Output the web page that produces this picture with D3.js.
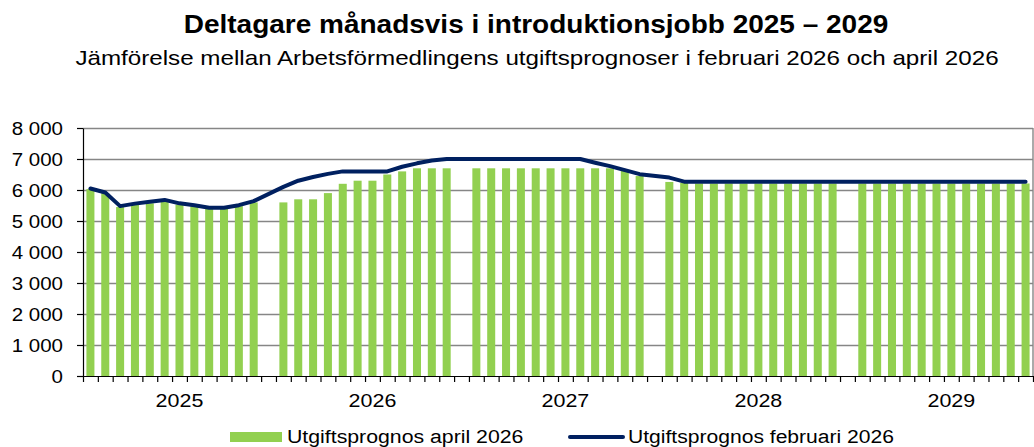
<!DOCTYPE html>
<html lang="sv">
<head>
    <meta charset="UTF-8">
    <title>Deltagare månadsvis i introduktionsjobb 2025 – 2029</title>
    <script src="https://d3js.org/d3.v7.min.js"></script>
    <style>
        body { margin: 0; background: #fff; }
        svg { font-family: "Liberation Sans", Arial, sans-serif; }
        .grid line { stroke: #868686; stroke-width: 1.4; }
        .axis path, .axis line { stroke: #000; stroke-width: 1.2; }
    </style>
</head>
<body>
<div id="chart"></div>

<script>
    // Data
    const years = ["2025", "2026", "2027", "2028", "2029"];
    const months = ["jan", "feb", "mar", "apr", "maj", "jun", "jul", "aug", "sep", "okt", "nov", "dec"];

    // Utgiftsprognos april 2026 (bars), one value per month 2025-2029
    const aprilValues = [
        6030, 5900, 5450, 5520, 5570, 5630, 5530, 5480, 5400, 5400, 5480, 5600,
        5600, 5700, 5700, 5900, 6200, 6300, 6300, 6500, 6600, 6700, 6700, 6700,
        6700, 6700, 6700, 6700, 6700, 6700, 6700, 6700, 6700, 6700, 6640, 6450,
        6260, 6230, 6210, 6210, 6210, 6210, 6210, 6210, 6210, 6210, 6210, 6210,
        6210, 6210, 6210, 6210, 6210, 6210, 6210, 6210, 6210, 6210, 6210, 6210
    ];

    // Utgiftsprognos februari 2026 (line)
    const februariValues = [
        6050, 5920, 5480, 5560, 5620, 5680, 5570, 5510, 5430, 5430, 5510, 5640,
        6100, 6300, 6420, 6520, 6600, 6600, 6600, 6600, 6750, 6860, 6950, 7000,
        7000, 7000, 7000, 7000, 7000, 7000, 7000, 7000, 6880, 6770, 6640, 6510,
        6400, 6270, 6270, 6270, 6270, 6270, 6270, 6270, 6270, 6270, 6270, 6270,
        6270, 6270, 6270, 6270, 6270, 6270, 6270, 6270, 6270, 6270, 6270, 6270
    ];

    const yTicks = [0, 1000, 2000, 3000, 4000, 5000, 6000, 7000, 8000];

    // categories: 12 months per year with an empty slot between years
    const categories = [];
    const rows = [];
    years.forEach((yr, yi) => {
        months.forEach((m, mi) => {
            const key = yr + "-" + m;
            categories.push(key);
            rows.push({ key, year: yr, april: aprilValues[yi * 12 + mi], februari: februariValues[yi * 12 + mi] });
        });
        if (yi < years.length - 1) categories.push("gap-" + yr);
    });

    // the reference text is a bit wider than Liberation Sans, so stretch it sideways
    function stretch(sel, x, y, sx) {
        sel.attr("x", 0).attr("y", 0)
            .attr("transform", `translate(${x},${y}) scale(${sx},1)`);
    }

    const svg = d3.select("#chart").append("svg").attr("width", 1034).attr("height", 447);
    const margin = { top: 128, right: 1, bottom: 71, left: 83 };
    const width = +svg.attr("width") - margin.left - margin.right;
    const height = +svg.attr("height") - margin.top - margin.bottom;

    // Titles
    svg.append("text")
        .attr("text-anchor", "middle")
        .style("font-size", "25px").style("font-weight", "bold")
        .text("Deltagare månadsvis i introduktionsjobb 2025 – 2029")
        .call(stretch, 536, 33, 1.12);

    svg.append("text")
        .attr("text-anchor", "middle")
        .style("font-size", "20.5px")
        .text("Jämförelse mellan Arbetsförmedlingens utgiftsprognoser i februari 2026 och april 2026")
        .call(stretch, 537, 65, 1.18);

    const g = svg.append("g").attr("transform", `translate(${margin.left},${margin.top})`);

    const x = d3.scaleBand().domain(categories).range([0, width]).paddingInner(0.46).paddingOuter(0.23);
    const y = d3.scaleLinear().domain([0, 8000]).range([height, 0]);

    // Gridlines
    g.append("g").attr("class", "grid")
        .call(d3.axisLeft(y).tickValues(yTicks.slice(1)).tickSize(-width).tickFormat(""))
        .call(s => s.select(".domain").remove());

    // plot border (right side)
    g.append("line")
        .attr("x1", width).attr("x2", width).attr("y1", 0).attr("y2", height)
        .attr("stroke", "#868686").attr("stroke-width", 1.4);

    // Bars
    g.selectAll(".bar")
        .data(rows)
        .enter().append("rect")
        .attr("class", "bar")
        .attr("x", d => x(d.key))
        .attr("y", d => y(d.april))
        .attr("width", x.bandwidth())
        .attr("height", d => height - y(d.april))
        .attr("fill", "#92D050");

    // Line
    const line = d3.line()
        .x(d => x(d.key) + x.bandwidth() / 2)
        .y(d => y(d.februari));

    g.append("path")
        .datum(rows)
        .attr("fill", "none")
        .attr("stroke", "#002060")
        .attr("stroke-width", 4)
        .attr("stroke-linejoin", "round")
        .attr("stroke-linecap", "round")
        .attr("d", line);

    // Y axis
    const yAxis = g.append("g").attr("class", "axis")
        .call(d3.axisLeft(y).tickValues(yTicks).tickSize(6).tickSizeOuter(0).tickPadding(14)
            .tickFormat(d => d3.format(",")(d).replace(",", " ")));
    yAxis.selectAll("text")
        .style("font-size", "19px").attr("fill", "#000").attr("dy", "0.35em")
        .each(function() { d3.select(this).call(stretch, -20, 0, 1.08); });

    // X axis: tick at each category boundary
    const xEdge = d3.scaleLinear().domain([0, categories.length]).range([0, width]);
    g.append("g").attr("class", "axis")
        .attr("transform", `translate(0,${height})`)
        .call(d3.axisBottom(xEdge).tickValues(d3.range(0, categories.length + 1)).tickSize(6).tickSizeOuter(0).tickFormat(""));

    // Year labels, centred over 13 slots each
    g.selectAll(".year")
        .data(years)
        .enter().append("text")
        .attr("class", "year")
        .attr("text-anchor", "middle")
        .style("font-size", "19px")
        .text(d => d)
        .each(function(d, i) { d3.select(this).call(stretch, xEdge(i * 13 + 6.5), height + 31, 1.13); });

    // Legend
    const legend = svg.append("g");
    legend.append("rect")
        .attr("x", 230).attr("y", 432).attr("width", 52).attr("height", 10)
        .attr("fill", "#92D050");
    legend.append("text")
        .style("font-size", "19px")
        .text("Utgiftsprognos april 2026")
        .call(stretch, 287, 443, 1.12);
    legend.append("line")
        .attr("x1", 570).attr("x2", 623).attr("y1", 437).attr("y2", 437)
        .attr("stroke", "#002060").attr("stroke-width", 4).attr("stroke-linecap", "round");
    legend.append("text")
        .style("font-size", "19px")
        .text("Utgiftsprognos februari 2026")
        .call(stretch, 628, 443, 1.11);
</script>
</body>
</html>
